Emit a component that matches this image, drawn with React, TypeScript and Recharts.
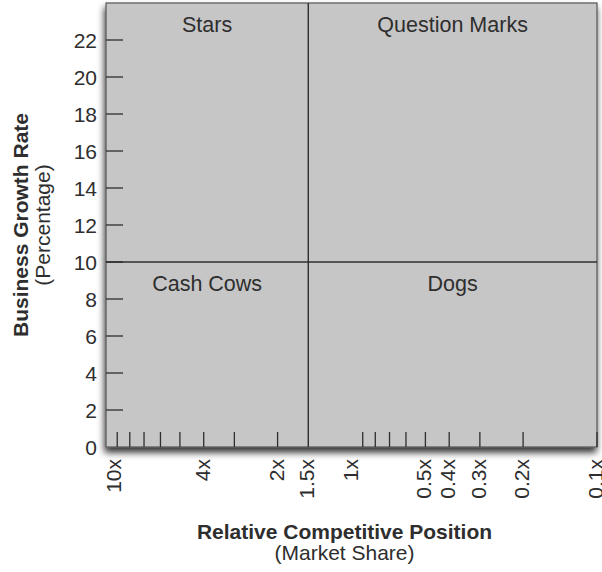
import React from 'react';
import {
  ScatterChart,
  Scatter,
  XAxis,
  YAxis,
  ReferenceArea,
  ReferenceLine,
  Label,
} from 'recharts';

// axis values
const yDomain = [0, 24];
const yTicks = [0, 2, 4, 6, 8, 10, 12, 14, 16, 18, 20, 22];
const xDomain = [0.1, 10];
const xTicks = [10, 9, 8, 7, 6, 5, 4, 3, 2, 1.5, 1, 0.9, 0.8, 0.7, 0.6, 0.5, 0.4, 0.3, 0.2, 0.1];
const xTickLabels = ['10x', '', '', '', '', '', '4x', '', '2x', '1.5x', '1x', '', '', '', '', '0.5x', '0.4x', '0.3x', '0.2x', '0.1x'];
const xTicksWithoutMark = [10, 1.5, 1];

// quadrant split
const xDivider = 1.5;
const yDivider = 10;
const quadrantNames = ['Stars', 'Question Marks', 'Cash Cows', 'Dogs'];
const quadrantX = [[10, 1.5], [1.5, 0.1], [10, 1.5], [1.5, 0.1]];
const quadrantY = [[10, 24], [10, 24], [0, 10], [0, 10]];

const points: { share: number; growth: number }[] = [];

const FONT = '"Liberation Sans", Arial, Helvetica, sans-serif';
const INK = '#2e2e2e';
const FILL = '#c6c6c6';

const XTick = (props: any) => {
  const { x, y, payload, index } = props;
  const label = xTickLabels[index] ?? '';
  const mark = !xTicksWithoutMark.includes(payload.value);
  const shift = index === 0 ? 9 : 0;
  return (
    <g>
      {mark && <line x1={x} y1={y} x2={x} y2={y - 15} stroke={INK} strokeWidth={1.3} />}
      {label && (
        <text
          transform={`translate(${x + 6 + shift},${y + 12}) rotate(-90)`}
          textAnchor="end"
          fontFamily={FONT}
          fontSize={21}
          fill={INK}
        >
          {label}
        </text>
      )}
    </g>
  );
};

const YTick = (props: any) => {
  const { x, y, payload } = props;
  return (
    <g>
      {payload.value !== 0 && <line x1={x} y1={y} x2={x + 17} y2={y} stroke={INK} strokeWidth={1.3} />}
      <text x={x - 9} y={y} textAnchor="end" dominantBaseline="central" fontFamily={FONT} fontSize={21} fill={INK}>
        {payload.value}
      </text>
    </g>
  );
};

const PlotShape = (props: any) => {
  const { x, y, width, height } = props;
  return (
    <g>
      <defs>
        <filter id="plotShadow" x="-10%" y="-10%" width="120%" height="120%">
          <feDropShadow dx={-1} dy={5} stdDeviation={3.5} floodColor="#000" floodOpacity={0.8} />
        </filter>
      </defs>
      <rect x={x} y={y} width={width} height={height} fill={FILL} stroke="#555" strokeWidth={1.2} filter="url(#plotShadow)" />
    </g>
  );
};

const YTitle = (props: any) => {
  const { viewBox } = props;
  const cy = viewBox.y + viewBox.height / 2;
  return (
    <g fontFamily={FONT} fill={INK}>
      <text transform={`translate(28,${cy}) rotate(-90)`} textAnchor="middle" fontSize={21} fontWeight="bold">
        Business Growth Rate
      </text>
      <text transform={`translate(50,${cy}) rotate(-90)`} textAnchor="middle" fontSize={21}>
        (Percentage)
      </text>
    </g>
  );
};

const XTitle = (props: any) => {
  const { viewBox } = props;
  const cx = viewBox.x + viewBox.width / 2 - 7;
  return (
    <g fontFamily={FONT} fill={INK}>
      <text x={cx} y={539} textAnchor="middle" fontSize={21} fontWeight="bold">
        Relative Competitive Position
      </text>
      <text x={cx} y={560} textAnchor="middle" fontSize={21}>
        (Market Share)
      </text>
    </g>
  );
};

export default function App() {
  return (
    <div style={{ position: 'absolute', left: 0, top: 0, background: '#fff' }}>
      <ScatterChart width={602} height={572} margin={{ top: 3, right: 5, bottom: 0, left: 0 }}>
        <ReferenceArea
          x1={xDomain[1]}
          x2={xDomain[0]}
          y1={yDomain[0]}
          y2={yDomain[1]}
          shape={<PlotShape />}
          ifOverflow="visible"
        />
        {quadrantNames.map((name, i) => (
          <ReferenceArea
            key={name}
            x1={quadrantX[i][0]}
            x2={quadrantX[i][1]}
            y1={quadrantY[i][0]}
            y2={quadrantY[i][1]}
            fill="none"
            stroke="none"
            label={{ value: name, position: 'insideTop', offset: 14, fontSize: 21.5, fontFamily: FONT, fill: INK }}
          />
        ))}
        <ReferenceLine x={xDivider} stroke={INK} strokeWidth={1.4} />
        <ReferenceLine y={yDivider} stroke={INK} strokeWidth={1.4} />
        <XAxis
          type="number"
          dataKey="share"
          scale="log"
          domain={xDomain}
          reversed
          ticks={xTicks}
          interval={0}
          tick={<XTick />}
          tickLine={false}
          axisLine={false}
          tickSize={0}
          tickMargin={0}
          height={125}
          allowDataOverflow
        >
          <Label content={<XTitle />} />
        </XAxis>
        <YAxis
          type="number"
          dataKey="growth"
          domain={yDomain}
          ticks={yTicks}
          interval={0}
          tick={<YTick />}
          tickLine={false}
          axisLine={false}
          tickSize={0}
          tickMargin={0}
          width={106}
          allowDataOverflow
        >
          <Label content={<YTitle />} />
        </YAxis>
        <Scatter data={points} isAnimationActive={false} />
      </ScatterChart>
    </div>
  );
}
